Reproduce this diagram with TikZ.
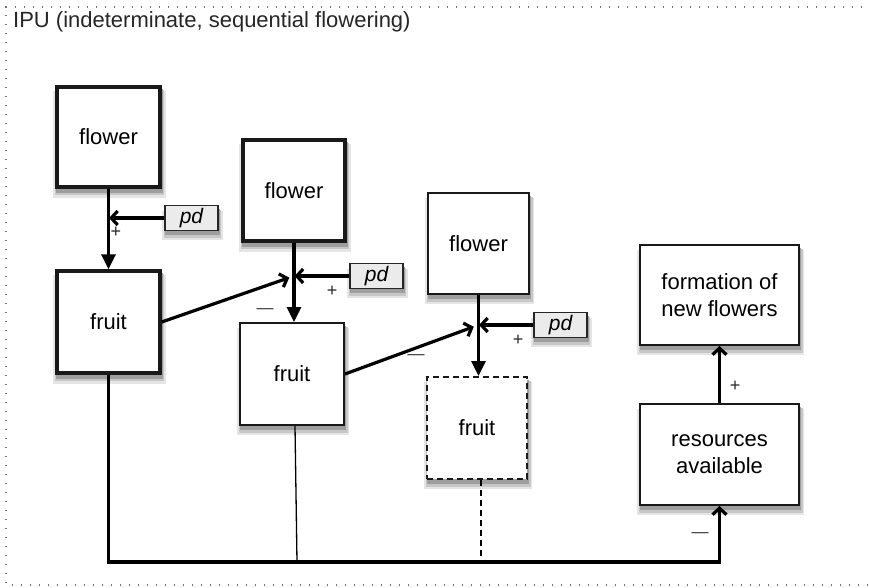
\documentclass[tikz,border=0pt]{standalone}
\usepackage{fontspec}
\setmainfont{Liberation Sans}
\usetikzlibrary{arrows.meta,calc,backgrounds}
\begin{document}
\begin{tikzpicture}[x=1pt,y=-1pt,
  box/.style={draw=black!90, fill=white, align=center, inner sep=2pt,
    font=\fontsize{22}{27}\selectfont},
  thickbox/.style={box, line width=3.4pt},
  medbox/.style={box, line width=2pt},
  pdbox/.style={draw=black!85, fill=black!8, line width=1.5pt, minimum width=53pt, minimum height=25pt,
    inner sep=0pt, font=\fontsize{21}{23}\selectfont\itshape},
  flowarr/.style={line width=3.2pt, -{Triangle[length=15pt,width=14pt]}},
  barbarr/.style={line width=3.2pt, -{Straight Barb[length=6.5pt,width=14pt]}},
  sign/.style={font=\fontsize{18}{19}\selectfont, inner sep=0pt, text=black!85},
  minus/.style={font=\fontsize{17}{18}\selectfont, inner sep=0pt, text=black!80},
  frame/.style={draw=black!55, line width=1.4pt, dash pattern=on 1.2pt off 7.8pt},
  shadowA/.style={fill=black!10},
  shadowB/.style={fill=black!22},
  shadowC/.style={fill=black!38}
]
\useasboundingbox (0,0) rectangle (869,588);
% frame
\draw[frame] (880,7) -- (6,7) -- (6,585) -- (880,585);
\node[anchor=base west, inner sep=0pt, font=\fontsize{22}{24}\selectfont, text=black!85] (title) at (13,28) {IPU (indeterminate, sequential flowering)};

% boxes
\node[thickbox, minimum width=103pt, minimum height=100pt] (flower1) at (108.5,137) {flower};
\node[thickbox, minimum width=103pt, minimum height=102pt] (fruit1) at (108.5,322) {fruit};
\node[thickbox, minimum width=102pt, minimum height=101pt] (flower2) at (294,190.5) {flower};
\node[medbox, minimum width=104pt, minimum height=102pt] (fruit2) at (292,374) {fruit};
\node[medbox, minimum width=101pt, minimum height=101pt] (flower3) at (478.5,243.5) {flower};
\node[medbox, dashed, dash pattern=on 6pt off 4pt, minimum width=100pt, minimum height=102pt] (fruit3) at (477,428) {fruit};
\node[medbox, minimum width=159pt, minimum height=100pt] (formation) at (719.5,295) {formation of\\new flowers};
\node[medbox, minimum width=159pt, minimum height=101pt] (resources) at (719.5,454.5) {resources\\available};

\node[pdbox] (pd1) at (191.5,218) {pd};
\node[pdbox] (pd2) at (376.5,276) {pd};
\node[pdbox] (pd3) at (560.5,325) {pd};

% soft drop shadows
\begin{scope}[on background layer]
\foreach \n in {flower1,fruit1,flower2,fruit2,flower3,fruit3,formation,resources,pd1,pd2,pd3}{
  \fill[shadowA] ($(\n.north west)+(-2,6)$) rectangle ($(\n.south east)+(4,9)$);
  \fill[shadowB] ($(\n.north west)+(-0.5,5)$) rectangle ($(\n.south east)+(2.5,6.5)$);
  \fill[shadowC] ($(\n.north west)+(1,4)$) rectangle ($(\n.south east)+(1,4)$);
}
\end{scope}

% junctions
\coordinate (j1) at (flower1.south |- pd1.west);
\coordinate (j2) at (flower2.south |- pd2.west);
\coordinate (j3) at (flower3.south |- pd3.west);
\coordinate (bot) at (0,562);

% flower -> fruit
\draw[flowarr] (flower1.south) -- (flower1.south |- fruit1.north);
\draw[flowarr] (flower2.south) -- (flower2.south |- fruit2.north);
\draw[flowarr] (flower3.south) -- (flower3.south |- fruit3.north);

% pd inputs
\draw[barbarr, shorten >=0.5pt] (pd1.west) -- (j1);
\draw[barbarr, shorten >=0.5pt] (pd2.west) -- (j2);
\draw[barbarr, shorten >=0.5pt] (pd3.west) -- (j3);
\node[sign] (p1) at (116,232) {+};
\node[sign] (p2) at (332,291) {+};
\node[sign] (p3) at (518,340) {+};

% fruit inhibition
\draw[barbarr, shorten >=5pt] (fruit1.east) -- (j2);
\draw[barbarr, shorten >=5pt] (fruit2.east) -- (j3);
\node[minus] (m1) at (265,311) {—};
\node[minus] (m2) at (416,357) {—};

% resources
\draw[barbarr] (fruit1.south) -- (fruit1.south |- bot) -| (resources.south);
\draw[line width=1.3pt] ([xshift=3pt]fruit2.south) -- ([xshift=5pt]fruit2.south |- bot);
\draw[line width=1.5pt, dash pattern=on 6pt off 4pt] ([xshift=4pt]fruit3.south) -- ([xshift=4pt]fruit3.south |- bot);
\node[minus] (m3) at (700,535) {—};

\draw[barbarr] (resources.north) -- (formation.south);
\node[sign] (p4) at (735,386) {+};
\end{tikzpicture}
\end{document}
